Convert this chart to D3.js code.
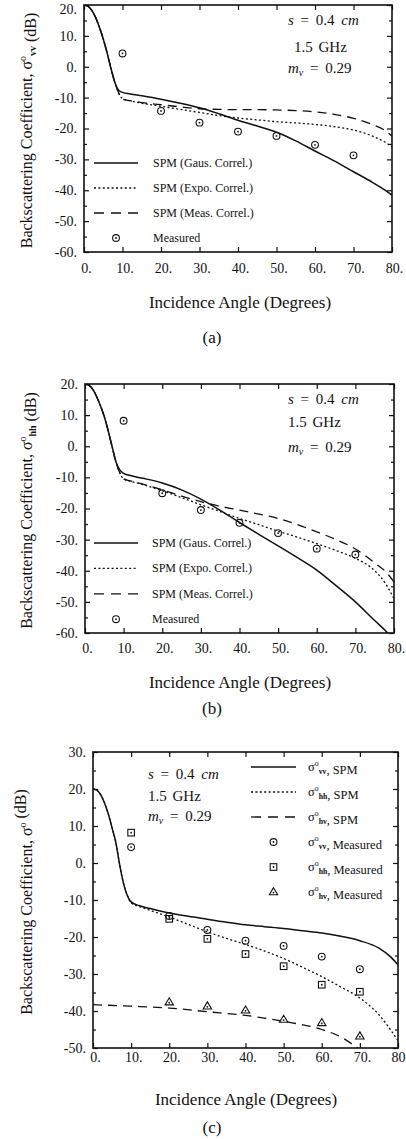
<!DOCTYPE html>
<html>
<head>
<script src="https://d3js.org/d3.v7.min.js"></script>
<style>
  body { margin: 0; background: #fff; }
  text { font-family: "Liberation Serif", "DejaVu Serif", serif; fill: #111; }
</style>
</head>
<body>
<script>
	var width = 406;
	var height = 1139;

	// x ticks (incidence angle)
	var angleTicks = [0, 10, 20, 30, 40, 50, 60, 70, 80];

	// angle grid shared by the model curves
	var curveAngles = [0, 1, 2, 3, 4, 5, 6, 7, 8, 9, 10, 12, 15, 20, 25, 30, 35, 40, 45, 50, 55, 60, 65, 70, 75, 78, 80];

	// (a) vv, SPM curves
	var vvGaus = [20, 19.6, 18.3, 16, 12.8, 9, 4.5, -0.5, -5, -7.6, -8.3, -8.8, -9.4, -10.5, -11.8, -13.3, -15.2, -17.3, -19.2, -21.2, -24, -27.3, -30.5, -34, -37.5, -39.8, -41.6];
	var vvExpo = [20, 19.6, 18.3, 16, 12.8, 9, 4.5, -0.5, -5, -8.5, -10.3, -11, -11.8, -12.8, -13.8, -14.8, -15.8, -16.6, -17.2, -17.8, -18.2, -18.7, -19.4, -20.5, -22.5, -24.3, -26];
	var vvMeas = [20, 19.6, 18.3, 16, 12.8, 9, 4.5, -0.5, -5, -8.5, -10.5, -11, -11.6, -12.3, -13, -13.6, -13.8, -13.9, -13.9, -14, -14.2, -14.6, -15.4, -16.7, -18.8, -20.5, -22.5];

	// (b) hh, SPM curves
	var hhGaus = [20, 19.6, 18.3, 16, 13, 9.5, 5, 0, -5, -7.6, -8.7, -9.5, -10.3, -11.8, -14, -17, -20.6, -24.5, -28.3, -32, -35.8, -39.8, -44.8, -50, -56, -59.5, -62];
	var hhExpo = [20, 19.6, 18.3, 16, 13, 9.5, 5, 0, -5, -8.5, -10.5, -11.3, -12.3, -14.3, -16.5, -18.8, -21, -23.2, -25.2, -27.3, -29.2, -31.3, -33.5, -36, -40, -44.5, -49];
	var hhMeas = [20, 19.6, 18.3, 16, 13, 9.5, 5, 0, -5, -8.5, -10.5, -11.2, -12.2, -14, -16, -17.8, -19.3, -20.5, -21.8, -23.2, -25.2, -27.5, -30, -33, -37.5, -40.5, -43.6];

	// (c) SPM curves for vv, hh, hv
	var spmVV = [20, 19.7, 18.5, 16.3, 13.3, 9.5, 5.5, -0.5, -5.5, -8.8, -10.5, -11.5, -12.3, -13.5, -14.4, -15.2, -16, -16.7, -17.2, -17.7, -18.3, -18.9, -19.8, -21, -23, -25.3, -27.5];
	var spmHH = [20, 19.7, 18.5, 16.3, 13.3, 9.5, 5.5, -0.5, -5.5, -8.8, -10.8, -11.7, -12.8, -14.6, -16.6, -18.6, -20.4, -22, -23.8, -25.8, -28.2, -30.7, -33.5, -36.5, -41, -45, -48];
	var spmHVAngles = [0, 10, 20, 30, 40, 50, 60, 65, 70];
	var spmHV = [-38.3, -38.7, -39.2, -40.2, -41.2, -42.8, -45, -47, -50.5];

	// measurements
	var measAngles = [10, 20, 30, 40, 50, 60, 70];
	var measVV = [4.3, -14.3, -18.1, -21, -22.4, -25.3, -28.7];
	var measHH = [8.2, -15.1, -20.5, -24.6, -27.9, -32.9, -34.8];
	var measHVAngles = [20, 30, 40, 50, 60, 70];
	var measHV = [-37.6, -38.7, -39.8, -42.3, -43.2, -46.8];

	var svg = d3.select("body")
		.append("svg")
		.attr("width", width)
		.attr("height", height)
		.style("background", "white")

	var dotted = "2,2.4";
	var dashed = "9,6";

	function pairs(xs, ys) {
		return xs.map((x, i) => [x, ys[i]]);
	}

	function marker(g, kind, x, y) {
		if (kind == "circle") {
			g.append("circle").attr("cx", x).attr("cy", y).attr("r", 3.4)
				.attr("fill", "none").attr("stroke", "#111").attr("stroke-width", 1.1);
		} else if (kind == "square") {
			g.append("rect").attr("x", x - 3.3).attr("y", y - 3.3).attr("width", 6.6).attr("height", 6.6)
				.attr("fill", "none").attr("stroke", "#111").attr("stroke-width", 1.1);
		} else {
			g.append("path").attr("d", "M" + x + "," + (y - 4.3) + "L" + (x + 4.2) + "," + (y + 2.8) + "L" + (x - 4.2) + "," + (y + 2.8) + "Z")
				.attr("fill", "none").attr("stroke", "#111").attr("stroke-width", 1.1);
			y += 0.6;
		}
		g.append("circle").attr("cx", x).attr("cy", y).attr("r", 0.9).attr("fill", "#111");
	}

	// σ with superscript o and a subscript
	function sigma(t, sub, size) {
		t.append("tspan").text("σ");
		t.append("tspan").attr("dy", -size * 0.4).attr("font-size", size * 0.62).text("o");
		if (sub) {
			t.append("tspan").attr("dy", size * 0.62).attr("font-size", size * 0.62).style("font-weight", "bold").text(sub);
			t.append("tspan").attr("dy", -size * 0.22).text("");
		} else {
			t.append("tspan").attr("dy", size * 0.4).text("");
		}
	}

	function drawPanel(p) {
		var g = svg.append("g");
		var x = d3.scaleLinear().domain([0, 80]).range([p.left, p.right]);
		var y = d3.scaleLinear().domain(p.yDomain).range([p.bottom, p.top]);
		var yMajor = d3.range(p.yDomain[0], p.yDomain[1] + 1, 10);
		var yMinor = d3.range(p.yDomain[0] + 5, p.yDomain[1], 10);

		// left axis with labels, inward ticks
		g.append("g")
			.attr("transform", "translate(" + p.left + ",0)")
			.call(d3.axisLeft(y).tickValues(yMajor).tickSize(-5).tickSizeOuter(0).tickPadding(7).tickFormat(d => d + "."))
			.call(a => a.select(".domain").remove())
			.call(a => a.selectAll("text").attr("font-size", 14).attr("font-family", "Liberation Serif").attr("fill", "#111"))
			.call(a => a.selectAll("text").filter(d => d == p.yDomain[1] && p.top < 10).attr("dy", "0.6em"))
		g.append("g")
			.attr("transform", "translate(" + p.left + ",0)")
			.call(d3.axisLeft(y).tickValues(yMinor).tickSize(-3).tickFormat(""))
			.call(a => a.select(".domain").remove())
		// right axis
		g.append("g")
			.attr("transform", "translate(" + p.right + ",0)")
			.call(d3.axisRight(y).tickValues(yMajor).tickSize(-5).tickFormat(""))
			.call(a => a.select(".domain").remove())
		g.append("g")
			.attr("transform", "translate(" + p.right + ",0)")
			.call(d3.axisRight(y).tickValues(yMinor).tickSize(-3).tickFormat(""))
			.call(a => a.select(".domain").remove())
		// bottom axis with labels
		g.append("g")
			.attr("transform", "translate(0," + p.bottom + ")")
			.call(d3.axisBottom(x).tickValues(angleTicks).tickSize(-5).tickPadding(p.xPad).tickFormat(d => (d == 80 && p.noLastDot) ? "80" : d + "."))
			.call(a => a.select(".domain").remove())
			.call(a => a.selectAll("text").attr("font-size", 14).attr("font-family", "Liberation Serif").attr("fill", "#111").attr("dx", d => (d == 80 && p.noLastDot) ? 0 : 2))
		// top axis
		g.append("g")
			.attr("transform", "translate(0," + p.top + ")")
			.call(d3.axisTop(x).tickValues(angleTicks).tickSize(-5).tickFormat(""))
			.call(a => a.select(".domain").remove())
		g.selectAll(".tick line").attr("stroke", "#111").attr("stroke-width", 1.2);

		g.append("rect")
			.attr("x", p.left).attr("y", p.top)
			.attr("width", p.right - p.left).attr("height", p.bottom - p.top)
			.attr("fill", "none").attr("stroke", "#111").attr("stroke-width", 1.6);

		// clip
		svg.append("clipPath").attr("id", "clip" + p.id)
			.append("rect").attr("x", p.left).attr("y", p.top)
			.attr("width", p.right - p.left).attr("height", p.bottom - p.top);

		var line = d3.line().x(d => x(d[0])).y(d => y(d[1])).curve(d3.curveMonotoneX);
		var cg = g.append("g").attr("clip-path", "url(#clip" + p.id + ")");
		p.curves.forEach(c => {
			cg.append("path")
				.attr("d", line(c.data))
				.attr("fill", "none")
				.attr("stroke", "#111")
				.attr("stroke-width", c.dash ? 1.3 : 1.5)
				.attr("stroke-dasharray", c.dash || null);
		});
		p.points.forEach(s => {
			s.data.forEach(d => marker(g, s.kind, x(d[0]), y(d[1])));
		});

		// legend
		p.legend.forEach((l, i) => {
			var ly = p.legendY + i * p.legendStep;
			if (l.kind) {
				marker(g, l.kind, (p.legendX0 + p.legendX1) / 2, ly);
			} else {
				g.append("line").attr("x1", p.legendX0).attr("x2", p.legendX1).attr("y1", ly).attr("y2", ly)
					.attr("stroke", "#111").attr("stroke-width", l.dash ? 1.3 : 1.5)
					.attr("stroke-dasharray", l.dash || null);
			}
			var t = g.append("text").attr("x", p.legendTextX).attr("y", ly + 4).attr("font-size", p.legendFont);
			if (l.sub) {
				sigma(t, l.sub, p.legendFont);
				t.append("tspan").text(", " + l.label);
			} else {
				t.text(l.label);
			}
		});

		// parameter notes
		var nt = g.append("text").attr("x", p.noteX).attr("y", p.noteY[0]).attr("font-size", 15);
		nt.append("tspan").attr("font-style", "italic").text("s");
		nt.append("tspan").text(" = 0.4 ");
		nt.append("tspan").attr("font-style", "italic").text("cm");
		nt.attr("word-spacing", 3);
		g.append("text").attr("x", p.noteX + p.ghzDx).attr("y", p.noteY[1]).attr("font-size", 15).attr("word-spacing", 2).text("1.5 GHz");
		var mt = g.append("text").attr("x", p.noteX).attr("y", p.noteY[2]).attr("font-size", 15).attr("word-spacing", 3);
		mt.append("tspan").attr("font-style", "italic").text("m");
		mt.append("tspan").attr("font-style", "italic").attr("font-size", 10).attr("dy", 3).text("v");
		mt.append("tspan").attr("dy", -3).text(" = 0.29");

		// axis titles
		g.append("text")
			.attr("x", p.xTitleX).attr("y", p.xTitleY)
			.attr("text-anchor", "middle").attr("font-size", 17)
			.text("Incidence Angle (Degrees)");
		g.append("text")
			.attr("x", 212).attr("y", p.tagY)
			.attr("text-anchor", "middle").attr("font-size", 17)
			.text(p.tag);
		var yt = g.append("text")
			.attr("transform", "translate(32," + ((p.top + p.bottom) / 2 + 2) + ") rotate(-90)")
			.attr("text-anchor", "middle").attr("font-size", 16);
		yt.append("tspan").text("Backscattering Coefficient, ");
		sigma(yt, p.ySub, 16);
		yt.append("tspan").text(" (dB)");
	}

	var legendA = [
		{label: "SPM (Gaus. Correl.)"},
		{label: "SPM (Expo. Correl.)", dash: dotted},
		{label: "SPM (Meas. Correl.)", dash: "10,7"},
		{label: "Measured", kind: "circle"}
	];

	drawPanel({
		id: "a", left: 84, right: 392, top: 5, bottom: 252, yDomain: [-60, 20], xPad: 11,
		curves: [
			{data: pairs(curveAngles, vvGaus)},
			{data: pairs(curveAngles, vvExpo), dash: dotted},
			{data: pairs(curveAngles, vvMeas), dash: dashed}
		],
		points: [{kind: "circle", data: pairs(measAngles, measVV)}],
		legend: legendA, legendY: 163, legendStep: 25, legendX0: 94, legendX1: 138, legendTextX: 153, legendFont: 12,
		noteX: 288, ghzDx: 6, noteY: [25, 52, 73],
		xTitleX: 240, xTitleY: 308, tag: "(a)", tagY: 343, ySub: "vv"
	});

	drawPanel({
		id: "b", left: 85, right: 394, top: 384, bottom: 633, yDomain: [-60, 20], xPad: 10,
		curves: [
			{data: pairs(curveAngles, hhGaus)},
			{data: pairs(curveAngles, hhExpo), dash: dotted},
			{data: pairs(curveAngles, hhMeas), dash: dashed}
		],
		points: [{kind: "circle", data: pairs(measAngles, measHH)}],
		legend: legendA, legendY: 543, legendStep: 25.4, legendX0: 94, legendX1: 138, legendTextX: 152, legendFont: 12,
		noteX: 288, ghzDx: 0, noteY: [404, 427, 452],
		xTitleX: 240, xTitleY: 688, tag: "(b)", tagY: 714, ySub: "hh"
	});

	drawPanel({
		id: "c", left: 93, right: 398, top: 752, bottom: 1048, yDomain: [-50, 30], xPad: 4, noLastDot: true,
		curves: [
			{data: pairs(curveAngles, spmVV)},
			{data: pairs(curveAngles, spmHH), dash: dotted},
			{data: pairs(spmHVAngles, spmHV), dash: dashed}
		],
		points: [
			{kind: "circle", data: pairs(measAngles, measVV)},
			{kind: "square", data: pairs(measAngles, measHH)},
			{kind: "triangle", data: pairs(measHVAngles, measHV)}
		],
		legend: [
			{label: "SPM", sub: "vv"},
			{label: "SPM", sub: "hh", dash: dotted},
			{label: "SPM", sub: "hv", dash: "10,7"},
			{label: "Measured", sub: "vv", kind: "circle"},
			{label: "Measured", sub: "hh", kind: "square"},
			{label: "Measured", sub: "hv", kind: "triangle"}
		],
		legendY: 767, legendStep: 25, legendX0: 251, legendX1: 296, legendTextX: 308, legendFont: 12.5,
		noteX: 148, ghzDx: 0, noteY: [779, 801, 821],
		xTitleX: 246, xTitleY: 1105, tag: "(c)", tagY: 1133, ySub: null
	});
</script>
</body>
</html>
